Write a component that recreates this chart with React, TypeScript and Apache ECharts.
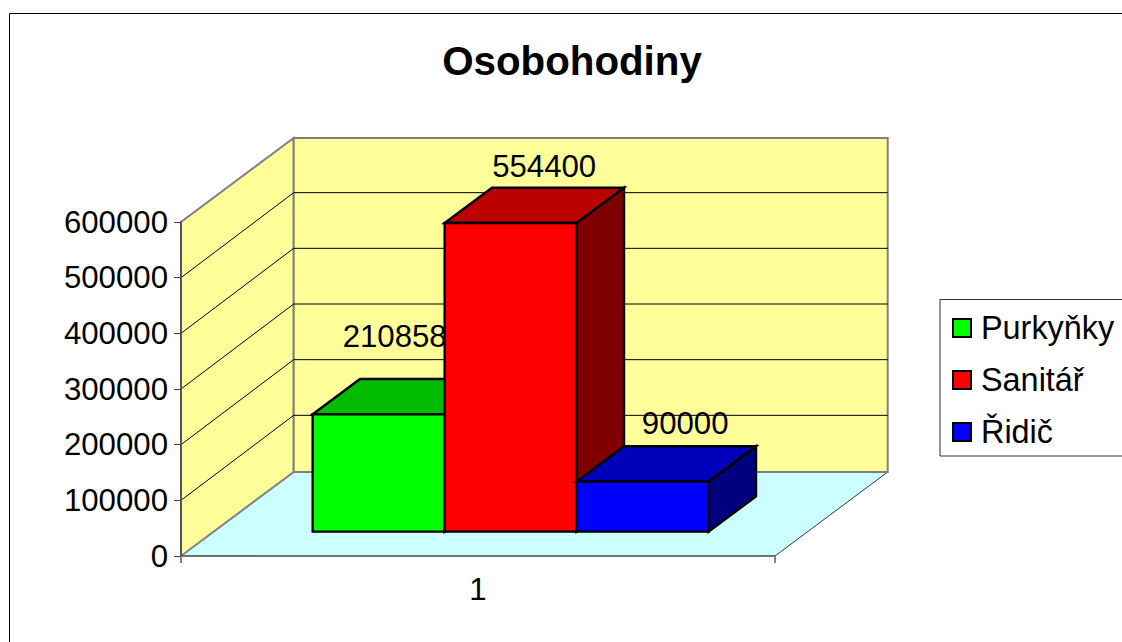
import React, { useEffect, useRef } from "react";
import * as echarts from "echarts";

const chartTitle = "Osobohodiny";
const categories = ["1"];
const seriesNames = ["Purkyňky", "Sanitář", "Řidič"];
const seriesValues = [210858, 554400, 90000];
const yTicks = [0, 100000, 200000, 300000, 400000, 500000, 600000];

const frontColors = ["#00FF00", "#FF0000", "#0000FF"];
const topColors = ["#00BB00", "#BB0000", "#0000BB"];
const sideColors = ["#007F00", "#7F0000", "#00007F"];
const labelOffsets = [[16, -78], [33.5, -57], [42.5, -58]];

const FONT = "Liberation Sans";
const WALL_DX = 112.7;
const WALL_DY = -84;
const GAP_RATIO = 0.29;
const BAR_RATIO = 0.42;

function renderWalls(_params: any, api: any) {
  const x0 = api.coord([0, 0])[0] - api.size([1, 0])[0] / 2;
  const w = api.size([1, 0])[0];
  const y0 = api.coord([0, 0])[1];
  const yTop = api.coord([0, yTicks[yTicks.length - 1]])[1];
  const gray = { stroke: "#808080", lineWidth: 2 };
  const children: any[] = [
    {
      type: "polygon",
      shape: { points: [[x0, y0], [x0 + WALL_DX, y0 + WALL_DY], [x0 + w + WALL_DX, y0 + WALL_DY], [x0 + w, y0]] },
      style: { fill: "#CCFFFF" },
    },
    {
      type: "line",
      shape: { x1: x0 + w, y1: y0, x2: x0 + w + WALL_DX, y2: y0 + WALL_DY },
      style: { stroke: "#333333", lineWidth: 1 },
    },
    {
      type: "polygon",
      shape: { points: [[x0, y0], [x0 + WALL_DX, y0 + WALL_DY], [x0 + WALL_DX, yTop + WALL_DY], [x0, yTop]] },
      style: { fill: "#FFFF99", ...gray },
    },
    {
      type: "rect",
      shape: { x: x0 + WALL_DX, y: yTop + WALL_DY, width: w, height: y0 - yTop },
      style: { fill: "#FFFF99", ...gray },
    },
  ];
  yTicks.slice(1, -1).forEach((t) => {
    const y = api.coord([0, t])[1];
    children.push({
      type: "polyline",
      shape: { points: [[x0, y], [x0 + WALL_DX, y + WALL_DY - 1], [x0 + w + WALL_DX, y + WALL_DY - 1]] },
      style: { stroke: "#000000", lineWidth: 1, fill: "none" },
    });
  });
  return { type: "group", children };
}

function makeBarRenderer(i: number) {
  return (_params: any, api: any) => {
    const w = api.size([1, 0])[0];
    const cx = api.coord([0, 0])[0];
    const bw = (w * 2) / 9;
    const left = cx - w / 3 + i * bw + WALL_DX * GAP_RATIO;
    const right = left + bw;
    const bottom = api.coord([0, 0])[1] + WALL_DY * GAP_RATIO;
    const top = api.coord([0, api.value(1)])[1] + WALL_DY * GAP_RATIO;
    const dx = WALL_DX * BAR_RATIO;
    const dy = WALL_DY * BAR_RATIO;
    const edge = { stroke: "#000000", lineWidth: 2.4, lineJoin: "miter" };
    return {
      type: "group",
      children: [
        {
          type: "text",
          style: {
            text: String(api.value(1)),
            x: (left + right) / 2 + labelOffsets[i][0],
            y: top + labelOffsets[i][1],
            fill: "#000000",
            font: `31.2px "${FONT}"`,
            align: "center",
            verticalAlign: "middle",
          },
        },
        {
          type: "polygon",
          shape: { points: [[left, top], [left + dx, top + dy], [right + dx, top + dy], [right, top]] },
          style: { fill: topColors[i], ...edge },
        },
        {
          type: "polygon",
          shape: { points: [[right, top], [right + dx, top + dy], [right + dx, bottom + dy], [right, bottom]] },
          style: { fill: sideColors[i], ...edge },
        },
        {
          type: "rect",
          shape: { x: left, y: top, width: bw, height: bottom - top },
          style: { fill: frontColors[i], ...edge },
        },
      ],
    };
  };
}

export default function App() {
  const ref = useRef<HTMLDivElement>(null);
  useEffect(() => {
    document.body.style.margin = "0";
    const chart = echarts.init(ref.current!, undefined, { renderer: "svg" });
    chart.setOption({
      animation: false,
      backgroundColor: "#FFFFFF",
      textStyle: { fontFamily: FONT },
      title: {
        text: chartTitle,
        left: 572,
        top: 41,
        textAlign: "center",
        padding: 0,
        textStyle: { fontFamily: FONT, fontSize: 40.3, fontWeight: "bold", color: "#000000" },
      },
      grid: { left: 181, top: 222, width: 594, height: 334 },
      xAxis: {
        type: "category",
        data: categories,
        z: 5,
        axisLine: { lineStyle: { color: "#444444", width: 1.5 } },
        axisTick: { show: true, length: 7, lineStyle: { color: "#808080", width: 2 } },
        axisLabel: { fontFamily: FONT, fontSize: 31.2, color: "#000000", margin: 18 },
        splitLine: { show: false },
      },
      yAxis: {
        type: "value",
        min: 0,
        max: 600000,
        interval: 100000,
        z: 5,
        axisLine: { show: true, lineStyle: { color: "#555555", width: 2 } },
        axisTick: { show: true, length: 7, lineStyle: { color: "#444444", width: 1 } },
        axisLabel: {
          fontFamily: FONT,
          fontSize: 31.2,
          color: "#000000",
          margin: 13,
          formatter: (v: number) => String(v),
        },
        splitLine: { show: false },
      },
      legend: {
        orient: "vertical",
        left: 940,
        top: 299.5,
        data: seriesNames,
        icon: "rect",
        itemWidth: 18,
        itemHeight: 18,
        itemGap: 20,
        padding: [12.5, 12, 8, 12],
        borderColor: "#333333",
        borderWidth: 1,
        backgroundColor: "#FFFFFF",
        itemStyle: { borderColor: "#000000", borderWidth: 2 },
        textStyle: { fontFamily: FONT, fontSize: 32.4, color: "#000000", padding: [0, 0, 3, 5] },
      },
      graphic: [
        {
          type: "rect",
          silent: true,
          shape: { x: 9.5, y: 13.5, width: 1300, height: 800 },
          style: { fill: "none", stroke: "#000000", lineWidth: 1 },
        },
      ],
      series: [
        {
          type: "custom",
          z: 1,
          silent: true,
          clip: false,
          data: [[0, 0]],
          renderItem: renderWalls,
        },
        ...seriesNames.map((name, i) => ({
          type: "custom",
          name,
          z: 2,
          clip: false,
          itemStyle: { color: frontColors[i] },
          encode: { x: 0, y: 1 },
          data: [[0, seriesValues[i]]],
          renderItem: makeBarRenderer(i),
        })),
      ],
    });
    return () => chart.dispose();
  }, []);
  return <div ref={ref} style={{ width: 1122, height: 642 }} />;
}
